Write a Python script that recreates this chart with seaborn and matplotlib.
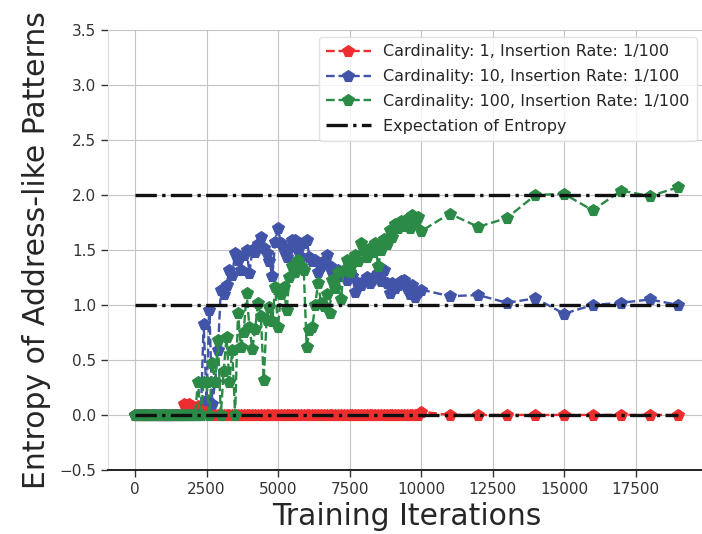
import matplotlib
matplotlib.use("Agg")
import matplotlib.pyplot as plt
import numpy as np
import pandas as pd
import seaborn as sns

# Training iterations: every 100 steps up to 10k, then every 1000 steps
iterations = list(range(0, 10001, 100)) + list(range(11000, 19001, 1000))

entropy_card1 = (
    [0.0] * 17
    + [0.10, 0.09, 0.10, 0.08, 0.06, 0.08, 0.05, 0.03, 0.06, 0.02]
    + [0.0] * 73
    + [0.03]
    + [0.0] * 9
)

entropy_card10 = (
    [0.0] * 24
    + [0.83, 0.14, 0.95, 0.10, 0.30, 0.59,            # 2400-2900
       1.14, 1.10, 1.18, 1.32, 1.27, 1.47, 1.41, 1.32, 1.45, 1.50,  # 3000-3900
       1.29, 1.50, 1.48, 1.55, 1.62, 1.52, 1.47, 1.40, 1.26, 1.57,  # 4000-4900
       1.70, 1.56, 1.50, 1.44, 1.52, 1.59, 1.59, 1.50, 1.44, 1.56,  # 5000-5900
       1.59, 1.44, 1.40, 1.41, 1.30, 1.35, 1.40, 1.45, 1.35, 1.30,  # 6000-6900
       1.25, 1.32, 1.26, 1.29, 1.23, 1.28, 1.26, 1.12, 1.20, 1.18,  # 7000-7900
       1.22, 1.25, 1.20, 1.23, 1.26, 1.29, 1.22, 1.32, 1.20, 1.11,  # 8000-8900
       1.20, 1.15, 1.18, 1.22, 1.23, 1.15, 1.10, 1.18, 1.07, 1.12,  # 9000-9900
       1.14]                                                        # 10000
    + [1.08, 1.09, 1.02, 1.06, 0.92, 1.00, 1.02, 1.05, 1.00]
)

entropy_card100 = (
    [0.0] * 22
    + [0.30, 0.0, 0.30, 0.30, 0.0, 0.47, 0.30, 0.68,               # 2200-2900
       0.0, 0.40, 0.71, 0.30, 0.59, 0.0, 0.93, 0.62, 0.75, 1.11,    # 3000-3900
       0.80, 0.60, 0.78, 1.02, 0.90, 0.32, 0.86, 0.98, 0.85, 1.16,  # 4000-4900
       0.80, 1.10, 1.16, 0.95, 1.25, 1.35, 1.30, 1.41, 1.35, 1.32,  # 5000-5900
       0.62, 0.77, 0.80, 1.00, 1.20, 1.02, 0.99, 1.10, 0.93, 1.23,  # 6000-6900
       1.15, 1.30, 1.05, 1.32, 1.41, 1.30, 1.38, 1.45, 1.40, 1.56,  # 7000-7900
       1.50, 1.44, 1.52, 1.48, 1.56, 1.35, 1.50, 1.60, 1.55, 1.68,  # 8000-8900
       1.62, 1.74, 1.70, 1.76, 1.72, 1.78, 1.70, 1.82, 1.75, 1.80,  # 9000-9900
       1.67]                                                        # 10000
    + [1.83, 1.71, 1.79, 2.00, 2.01, 1.86, 2.04, 1.99, 2.07]
)

expected_entropy = [0.0, 1.0, 2.0]

series_labels = [
    "Cardinality: 1, Insertion Rate: 1/100",
    "Cardinality: 10, Insertion Rate: 1/100",
    "Cardinality: 100, Insertion Rate: 1/100",
]
series_colors = ["#ee2e2e", "#4154a8", "#2b8a45"]
expectation_label = "Expectation of Entropy"

x_ticks = [0, 2500, 5000, 7500, 10000, 12500, 15000, 17500]
y_ticks = [-0.5, 0.0, 0.5, 1.0, 1.5, 2.0, 2.5, 3.0, 3.5]

sns.set_style("whitegrid", {
    "grid.color": "#c4c4c4",
    "axes.edgecolor": "#dddddd",
    "xtick.bottom": True,
    "ytick.left": True,
    "xtick.color": "#333333",
    "ytick.color": "#333333",
    "text.color": "#262626",
    "axes.labelcolor": "#262626",
})
plt.rcParams["font.family"] = ["DejaVu Sans"]

fig = plt.figure(figsize=(7.02, 5.34), dpi=100)
ax = fig.add_axes([0.1536, 0.1199, 0.8516, 0.824])

df = pd.DataFrame({
    "iteration": iterations,
    "card1": entropy_card1,
    "card10": entropy_card10,
    "card100": entropy_card100,
})

for col, label, color in zip(["card1", "card10", "card100"], series_labels, series_colors):
    sns.lineplot(data=df, x="iteration", y=col, ax=ax, label=label, color=color,
                 linestyle="--", linewidth=1.7, marker="p", markersize=8.5,
                 markeredgewidth=0.8, markeredgecolor=color, errorbar=None)

for i, level in enumerate(expected_entropy):
    exp_df = pd.DataFrame({"iteration": iterations, "expected": [level] * len(iterations)})
    sns.lineplot(data=exp_df, x="iteration", y="expected", ax=ax, color="#111111",
                 linestyle="-.", linewidth=2.4, errorbar=None,
                 label=expectation_label if i == 0 else None)

ax.set_xlim(-950, 19950)
ax.set_ylim(-0.5, 3.5)
ax.set_xticks(x_ticks)
ax.set_yticks(y_ticks)
ax.tick_params(axis="both", labelsize=11, length=5, width=1, direction="out")
ax.set_xlabel("Training Iterations", fontsize=21.5)
ax.set_ylabel("Entropy of Address-like Patterns", fontsize=21.5, labelpad=6)

ax.spines["top"].set_visible(False)
ax.spines["right"].set_visible(False)
ax.spines["bottom"].set_color("#222222")
ax.spines["bottom"].set_linewidth(1.4)
ax.spines["left"].set_color("#dddddd")

leg = ax.legend(loc="upper right", bbox_to_anchor=(697 / 702, 1 - 37 / 534),
                bbox_transform=fig.transFigure, borderaxespad=0.0,
                fontsize=11.5, labelspacing=0.62, borderpad=0.45,
                handlelength=2.8, handletextpad=0.8,
                frameon=True, framealpha=0.8)
leg.get_frame().set_edgecolor("#dddddd")

fig.savefig("out.png", dpi=100)
